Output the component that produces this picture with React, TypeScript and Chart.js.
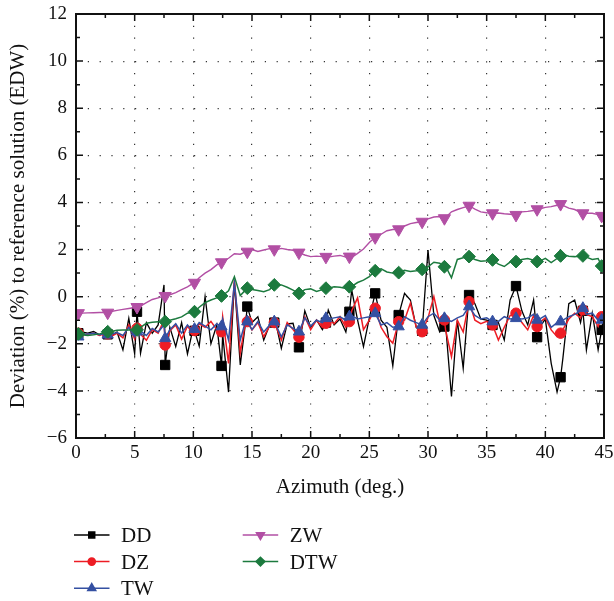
import React, { useEffect, useRef } from 'react';
import { Chart, registerables } from 'chart.js';
import { drawPoint } from 'chart.js/helpers';

Chart.register(...registerables);

// ---------- data ----------
const azimuth = [
  0, 0.5, 1, 1.5, 2, 2.5, 3, 3.5, 4, 4.5,
  5, 5.5, 6, 6.5, 7, 7.5, 8, 8.5, 9, 9.5,
  10, 10.5, 11, 11.5, 12, 12.5, 13, 13.5, 14, 14.5,
  15, 15.5, 16, 16.5, 17, 17.5, 18, 18.5, 19, 19.5,
  20, 20.5, 21, 21.5, 22, 22.5, 23, 23.5, 24, 24.5,
  25, 25.5, 26, 26.5, 27, 27.5, 28, 28.5, 29, 29.5,
  30, 30.5, 31, 31.5, 32, 32.5, 33, 33.5, 34, 34.5,
  35, 35.5, 36, 36.5, 37, 37.5, 38, 38.5, 39, 39.5,
  40, 40.5, 41, 41.5, 42, 42.5, 43, 43.5, 44, 44.5,
  45,
];

const markerAz = [0.2, 2.7, 5.2, 7.6, 10.1, 12.4, 14.6, 16.9, 19, 21.3, 23.3, 25.5, 27.5, 29.5, 31.4, 33.5, 35.5, 37.5, 39.3, 41.3, 43.2, 44.8];

const ddLine = [
  -1.40, -1.50, -1.55, -1.48, -1.62, -1.55, -1.65, -1.50, -2.26, -0.92,
  -2.43, -2.40, -1.10, -1.55, -1.20, 0.50, -1.30, -2.12, -1.10, -2.43,
  -1.30, -2.10, 0.00, -2.00, -1.20, -1.60, -4.05, 0.60, -2.90, -0.90,
  -1.10, -0.85, -1.84, -1.20, -1.05, -2.19, -1.15, -1.13, -2.15, -0.60,
  -1.30, -0.99, -1.40, -0.57, -1.20, -0.95, -1.50, 0.28, -1.00, -2.12,
  -0.90, 0.14, -1.00, -1.30, -2.94, -0.78, 0.14, -0.14, -1.30, -1.45,
  1.98, -0.80, -1.50, -1.20, -4.24, -1.00, -3.04, 0.07, -0.30, -0.95,
  -1.00, -1.20, -1.10, -1.84, -0.14, 0.45, -0.60, -1.20, -0.14, -1.30,
  -0.95, -2.83, -4.05, -2.60, -0.30, -0.14, -1.10, -2.26, -0.70, -2.26,
  -0.80,
];
const ddMarks = [-1.55, -1.60, -0.64, -2.90, -1.45, -2.94, -0.42, -1.10, -2.15, -1.10, -0.64, 0.14, -0.78, -1.45, -1.27, 0.07, -1.20, 0.45, -1.72, -3.42, -0.60, -1.41];

const dzLine = [
  -1.50, -1.62, -1.60, -1.55, -1.65, -1.55, -1.70, -1.55, -1.75, -1.20,
  -1.80, -1.60, -1.85, -1.40, -1.55, -1.00, -1.45, -1.20, -1.80, -1.25,
  -1.60, -1.15, -1.30, -1.05, -1.40, -0.85, -2.83, 0.70, -2.40, -0.90,
  -1.41, -1.10, -1.70, -1.25, -1.20, -1.84, -1.10, -1.40, -1.72, -0.85,
  -1.40, -1.00, -1.30, -0.95, -1.15, -0.85, -1.30, -0.60, -0.05, -1.40,
  -1.00, -0.49, -1.30, -1.70, -1.98, -1.06, -1.00, -0.28, -1.30, -1.49,
  -0.90, 0.00, -1.10, -1.41, -2.55, -1.00, -1.50, -0.21, -1.00, -1.15,
  -1.05, -1.20, -1.84, -1.30, -0.80, -0.70, -1.10, -1.41, -0.80, -1.10,
  -0.90, -1.41, -1.70, -1.40, -0.95, -0.70, -0.90, -0.75, -0.85, -1.27,
  -0.99,
];
const dzMarks = [-1.55, -1.58, -1.34, -2.05, -1.44, -1.49, -1.06, -1.10, -1.72, -1.13, -1.06, -0.49, -1.06, -1.49, -0.99, -0.21, -1.20, -0.70, -1.27, -1.55, -0.56, -0.85];

const twLine = [
  -1.60, -1.62, -1.58, -1.55, -1.62, -1.56, -1.60, -1.52, -1.65, -1.30,
  -1.70, -1.45, -1.65, -1.35, -1.50, -1.20, -1.40, -1.15, -1.55, -1.20,
  -1.50, -1.10, -1.25, -1.41, -1.15, -0.95, -1.84, 0.57, -1.84, -0.95,
  -1.40, -1.05, -1.50, -1.20, -1.15, -1.70, -1.20, -1.35, -1.49, -0.90,
  -1.25, -1.00, -1.10, -0.95, -0.90, -0.85, -1.00, -0.80, -0.95, -0.90,
  -0.85, -0.71, -1.20, -1.10, -1.30, -1.27, -0.85, -1.00, -1.10, -1.20,
  -0.85, -0.70, -1.00, -0.95, -1.05, -0.90, -0.80, -0.42, -0.80, -0.95,
  -0.90, -1.06, -1.05, -0.85, -0.95, -0.92, -0.95, -0.90, -0.75, -0.95,
  -0.80, -1.30, -1.10, -1.00, -0.85, -0.75, -0.60, -0.75, -0.70, -1.00,
  -0.95,
];
const twMarks = [-1.70, -1.62, -1.49, -1.77, -1.38, -1.27, -1.06, -1.06, -1.49, -0.92, -0.85, -0.71, -1.27, -1.20, -0.92, -0.42, -1.06, -0.92, -0.99, -1.06, -0.49, -0.99];

const zwLine = [
  -0.71, -0.70, -0.69, -0.68, -0.67, -0.67, -0.63, -0.58, -0.54, -0.50,
  -0.46, -0.40, -0.25, -0.12, -0.05, 0.02, 0.08, 0.17, 0.30, 0.42,
  0.57, 0.80, 1.00, 1.15, 1.35, 1.50, 1.63, 1.82, 1.80, 1.90,
  2.00, 1.92, 1.98, 2.04, 1.98, 2.05, 2.00, 1.97, 1.87, 1.77,
  1.70, 1.72, 1.70, 1.68, 1.72, 1.75, 1.68, 1.66, 1.84, 2.02,
  2.30, 2.52, 2.65, 2.80, 2.85, 2.86, 3.00, 3.10, 3.15, 3.18,
  3.30, 3.38, 3.40, 3.36, 3.60, 3.70, 3.78, 3.86, 3.72, 3.60,
  3.56, 3.54, 3.55, 3.52, 3.50, 3.47, 3.60, 3.62, 3.66, 3.72,
  3.79, 3.82, 3.88, 3.88, 3.76, 3.70, 3.58, 3.54, 3.54, 3.48,
  3.40,
];
const zwMarks = [-0.70, -0.68, -0.44, 0.03, 0.59, 1.46, 1.91, 2.01, 1.87, 1.69, 1.70, 2.52, 2.86, 3.18, 3.33, 3.86, 3.54, 3.47, 3.71, 3.93, 3.54, 3.43];

const dtwLine = [
  -1.58, -1.62, -1.65, -1.62, -1.58, -1.52, -1.48, -1.43, -1.41, -1.41,
  -1.40, -1.30, -1.13, -1.09, -1.06, -1.06, -1.00, -0.94, -0.86, -0.70,
  -0.64, -0.45, -0.25, -0.14, -0.05, 0.05, 0.25, 0.85, 0.05, 0.31,
  0.30, 0.26, 0.21, 0.30, 0.52, 0.50, 0.40, 0.28, 0.14, 0.30,
  0.33, 0.22, 0.30, 0.36, 0.42, 0.40, 0.35, 0.44, 0.60, 0.70,
  0.85, 1.10, 1.18, 1.05, 1.00, 1.02, 1.12, 1.07, 1.10, 1.16,
  1.27, 1.46, 1.42, 1.30, 0.80, 1.58, 1.65, 1.70, 1.58, 1.50,
  1.52, 1.56, 1.38, 1.28, 1.47, 1.49, 1.58, 1.62, 1.55, 1.50,
  1.63, 1.45, 1.62, 1.80, 1.72, 1.70, 1.73, 1.68, 1.58, 1.62,
  1.27,
];
const dtwMarks = [-1.58, -1.49, -1.41, -1.06, -0.64, 0.03, 0.36, 0.50, 0.14, 0.36, 0.42, 1.10, 1.02, 1.16, 1.27, 1.70, 1.56, 1.49, 1.49, 1.73, 1.73, 1.30];

const seriesLabels = ['DD', 'DZ', 'TW', 'ZW', 'DTW'];
const xTickValues = [0, 5, 10, 15, 20, 25, 30, 35, 40, 45];
const yTickValues = [-6, -4, -2, 0, 2, 4, 6, 8, 10, 12];

// ---------- styles ----------
const styles = [
  { color: '#000000', pointStyle: 'rect', rotation: 0, radius: 6.6, legendRadius: 4.2, width: 1.3 },
  { color: '#ed1c24', pointStyle: 'circle', rotation: 0, radius: 5.2, legendRadius: 3.6, width: 1.5 },
  { color: '#3450a2', pointStyle: 'triangle', rotation: 0, radius: 6.5, legendRadius: 4.6, width: 1.5 },
  { color: '#b24fa4', pointStyle: 'triangle', rotation: 180, radius: 7, legendRadius: 4.6, width: 1.4 },
  { color: '#1c7a3e', pointStyle: 'rectRot', rotation: 0, radius: 6.4, legendRadius: 4.4, width: 1.5 },
];

const lines = [ddLine, dzLine, twLine, zwLine, dtwLine];
const marks = [ddMarks, dzMarks, twMarks, zwMarks, dtwMarks];

function buildPoints(line: number[], mk: number[]) {
  const pts: { x: number; y: number; m: boolean }[] = [];
  azimuth.forEach((x, i) => {
    if (!markerAz.includes(x)) pts.push({ x, y: line[i], m: false });
  });
  markerAz.forEach((x, i) => pts.push({ x, y: mk[i], m: true }));
  pts.sort((a, b) => a.x - b.x);
  return pts;
}

const fmt = (v: number) => String(v).replace('-', '\u2212');

const axesFramePlugin = {
  id: 'axesFrame',
  afterDatasetsDraw(chart: any) {
    const { ctx, chartArea: a } = chart;
    const xs = chart.scales.x;
    const ys = chart.scales.y;
    ctx.save();
    ctx.strokeStyle = '#111';
    ctx.lineWidth = 1.5;
    ctx.beginPath();
    const tick = (px: number, len: number, horiz: boolean) => {
      if (horiz) {
        ctx.moveTo(px, a.bottom); ctx.lineTo(px, a.bottom - len);
        ctx.moveTo(px, a.top); ctx.lineTo(px, a.top + len);
      } else {
        ctx.moveTo(a.left, px); ctx.lineTo(a.left + len, px);
        ctx.moveTo(a.right, px); ctx.lineTo(a.right - len, px);
      }
    };
    xTickValues.forEach((v, i) => {
      tick(xs.getPixelForValue(v), 7, true);
      if (i < xTickValues.length - 1) tick(xs.getPixelForValue((v + xTickValues[i + 1]) / 2), 4, true);
    });
    yTickValues.forEach((v, i) => {
      tick(ys.getPixelForValue(v), 7, false);
      if (i < yTickValues.length - 1) tick(ys.getPixelForValue((v + yTickValues[i + 1]) / 2), 4, false);
    });
    ctx.stroke();
    ctx.lineWidth = 2;
    ctx.strokeRect(a.left, a.top, a.right - a.left, a.bottom - a.top);
    ctx.restore();
  },
};

const legendPlugin = {
  id: 'customLegend',
  afterDraw(chart: any) {
    const { ctx, chartArea: a } = chart;
    ctx.save();
    chart.data.datasets.forEach((ds: any, i: number) => {
      const st = styles[i];
      const col = i < 3 ? 0 : 1;
      const row = i < 3 ? i : i - 3;
      const x0 = a.left - 2 + col * 168.7;
      const x1 = x0 + 35.5;
      const y = a.bottom + 97 + row * 26.6;
      ctx.strokeStyle = st.color;
      ctx.fillStyle = st.color;
      ctx.lineWidth = 1.5;
      ctx.beginPath();
      ctx.moveTo(x0, y);
      ctx.lineTo(x1, y);
      ctx.stroke();
      drawPoint(ctx, { pointStyle: st.pointStyle as any, rotation: st.rotation, radius: st.legendRadius, borderWidth: 1 }, (x0 + x1) / 2, y);
      ctx.fillStyle = '#111';
      ctx.font = '21px "Liberation Serif", "Times New Roman", serif';
      ctx.textBaseline = 'alphabetic';
      ctx.textAlign = 'left';
      ctx.fillText(ds.label, x1 + 11.5, y + 7);
    });
    ctx.restore();
  },
};

export default function App() {
  const ref = useRef<HTMLCanvasElement>(null);
  useEffect(() => {
    Chart.defaults.font.family = '"Liberation Serif", "Times New Roman", serif';
    Chart.defaults.color = '#111';
    const datasets = seriesLabels.map((label, i) => {
      const st = styles[i];
      return {
        label,
        data: buildPoints(lines[i], marks[i]),
        borderColor: st.color,
        backgroundColor: st.color,
        borderWidth: st.width,
        pointStyle: st.pointStyle,
        pointRotation: st.rotation,
        pointRadius: (c: any) => (c.raw && c.raw.m ? st.radius : 0),
        pointHoverRadius: (c: any) => (c.raw && c.raw.m ? st.radius : 0),
        pointBorderWidth: 1,
        pointBorderColor: st.color,
        pointBackgroundColor: st.color,
        tension: 0,
        order: 5 - i,
      };
    });
    const chart = new Chart(ref.current as HTMLCanvasElement, {
      type: 'line',
      data: { datasets } as any,
      options: {
        responsive: false,
        animation: false,
        events: [],
        layout: { padding: { left: 0, right: 10, top: 14, bottom: 101 } },
        plugins: { legend: { display: false }, tooltip: { enabled: false } },
        scales: {
          x: {
            type: 'linear',
            min: 0,
            max: 45,
            afterBuildTicks: (s: any) => { s.ticks = xTickValues.map((v) => ({ value: v })); },
            afterFit: (s: any) => { s.height = 62; s.paddingLeft = 0; s.paddingRight = 0; },
            grid: { color: '#333', lineWidth: 1.2, drawTicks: false },
            border: { display: false, dash: [1.2, 10.6] },
            ticks: { color: '#111', font: { size: 19 }, padding: 4, maxRotation: 0, autoSkip: false, callback: (v: any) => fmt(v) },
            title: { display: true, text: 'Azimuth (deg.)', color: '#111', font: { size: 21 }, padding: { top: 0, bottom: 0 } },
          },
          y: {
            type: 'linear',
            min: -6,
            max: 12,
            afterBuildTicks: (s: any) => { s.ticks = yTickValues.map((v) => ({ value: v })); },
            afterFit: (s: any) => { s.width = 76; s.paddingTop = 0; s.paddingBottom = 0; },
            grid: { color: '#333', lineWidth: 1.2, drawTicks: false },
            border: { display: false, dash: [1.2, 10.6] },
            ticks: { color: '#111', font: { size: 19 }, padding: 9, autoSkip: false, callback: (v: any) => fmt(v) },
            title: { display: true, text: 'Deviation (%) to reference solution (EDW)', color: '#111', font: { size: 21 }, padding: { top: 6, bottom: 0 } },
          },
        },
      } as any,
      plugins: [axesFramePlugin, legendPlugin],
    });
    return () => chart.destroy();
  }, []);
  return (
    <div style={{ position: 'fixed', left: 0, top: 0, width: 614, height: 601, background: '#fff' }}>
      <canvas ref={ref} width={614} height={601} style={{ display: 'block' }} />
    </div>
  );
}
